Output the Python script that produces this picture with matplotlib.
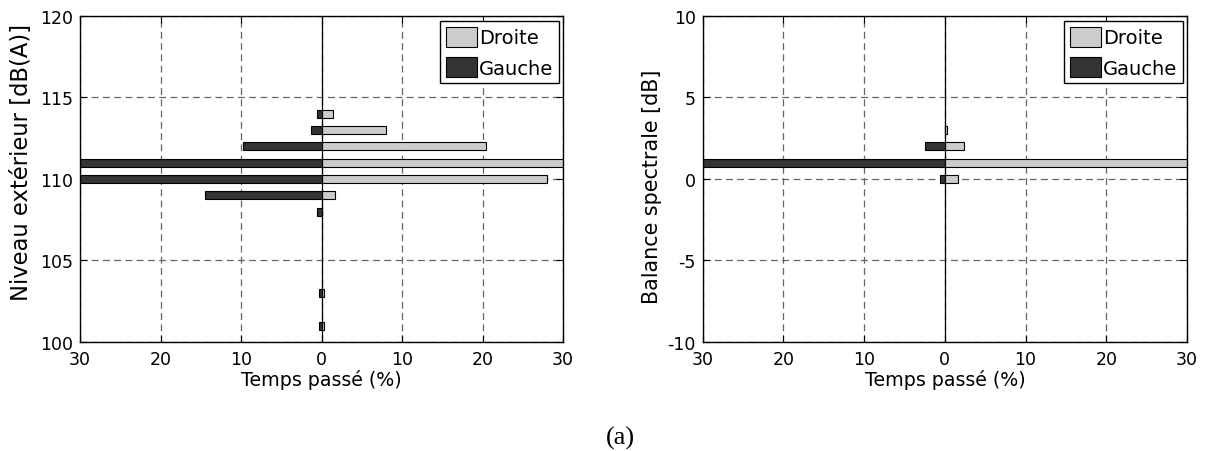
import matplotlib
matplotlib.use("Agg")
import matplotlib.pyplot as plt
from matplotlib.patches import Patch
from matplotlib.ticker import FixedLocator, FuncFormatter

plt.rcParams["font.family"] = ["DejaVu Sans"]
plt.rcParams["axes.unicode_minus"] = False

# Niveau extérieur [dB(A)] : temps passé (%) par oreille
levels_ext = [101, 103, 108, 109, 110, 111, 112, 113, 114]
droite_ext = [0.35, 0.35, 0.1, 1.7, 28.0, 34.0, 20.4, 8.0, 1.4]
gauche_ext = [0.3, 0.3, 0.55, 14.5, 34.0, 34.0, 9.7, 1.3, 0.55]

# Balance spectrale [dB] : temps passé (%) par oreille
levels_bal = [0, 1, 2, 3]
droite_bal = [1.6, 34.0, 2.4, 0.3]
gauche_bal = [0.6, 34.0, 2.4, 0.0]

x_ticks = [-30, -20, -10, 0, 10, 20, 30]
yticks_ext = [100, 105, 110, 115, 120]
yticks_bal = [-10, -5, 0, 5, 10]

LIGHT = "#cccccc"
DARK = "#333333"
TICK_FS = 12.5

fig = plt.figure(figsize=(12.07, 4.52), dpi=100)
ax1 = fig.add_axes([0.0663, 0.2412, 0.4002, 0.7212])
ax2 = fig.add_axes([0.5822, 0.2412, 0.4012, 0.7212])


def draw_panel(ax, levels, droite, gauche, yticks, ylabel, ylabel_fs,
               ylabel_xy):
    ax.barh(levels, droite, height=0.5, color=LIGHT, edgecolor="black",
            linewidth=0.8, zorder=3)
    ax.barh(levels, [-g for g in gauche], height=0.5, color=DARK,
            edgecolor="black", linewidth=0.8, zorder=3)
    ax.axvline(0, color="black", linewidth=0.9, zorder=2)
    ax.set_xlim(-30, 30)
    ax.set_ylim(yticks[0], yticks[-1])
    ax.xaxis.set_major_locator(FixedLocator(x_ticks))
    ax.xaxis.set_major_formatter(FuncFormatter(lambda v, p: f"{abs(v):.0f}"))
    ax.yaxis.set_major_locator(FixedLocator(yticks))
    ax.grid(True, color="#666666", linestyle=(0, (5.5, 3.5)), linewidth=0.9,
            zorder=1)
    ax.set_axisbelow(True)
    ax.tick_params(direction="in", length=5, width=0.8, top=True, right=True,
                   labelsize=TICK_FS)
    ax.tick_params(axis="x", pad=6)
    ax.tick_params(axis="y", pad=5)
    for s in ax.spines.values():
        s.set_linewidth(1.0)
        s.set_zorder(4)
    ax.set_xlabel("Temps passé (%)", fontsize=13.7, labelpad=0.5)
    ax.set_ylabel(ylabel, fontsize=ylabel_fs)
    ax.yaxis.set_label_coords(*ylabel_xy)
    handles = [Patch(facecolor=LIGHT, edgecolor="black", linewidth=0.8),
               Patch(facecolor=DARK, edgecolor="black", linewidth=0.8)]
    leg = ax.legend(handles, ["Droite", "Gauche"], loc="upper right",
                    bbox_to_anchor=(1 - 4 / 483, 1 - 5 / 326),
                    borderaxespad=0, fontsize=14, fancybox=False,
                    framealpha=1, edgecolor="black", handlelength=1.6,
                    handleheight=1.2, handletextpad=0.1, borderpad=0.3,
                    labelspacing=0.5)
    leg.get_frame().set_linewidth(1.0)
    leg.set_zorder(5)


draw_panel(ax1, levels_ext, droite_ext, gauche_ext, yticks_ext,
           "Niveau extérieur [dB(A)]", 16.3, (-0.097, 0.555))
draw_panel(ax2, levels_bal, droite_bal, gauche_bal, yticks_bal,
           "Balance spectrale [dB]", 14.9, (-0.085, 0.479))

fig.text(0.514, 0.031, "(a)", ha="center", va="center", fontsize=19,
         family="Liberation Serif")

fig.savefig("out.png", dpi=100)
